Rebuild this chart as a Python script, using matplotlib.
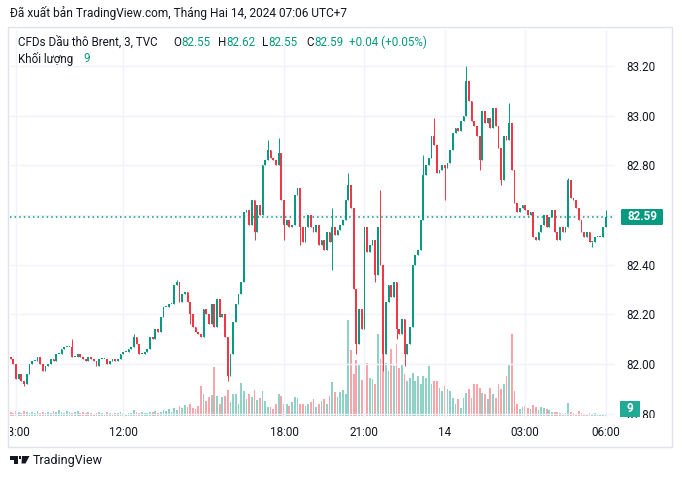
import numpy as np
import matplotlib.pyplot as plt
from matplotlib.patches import Rectangle, Polygon, FancyBboxPatch
from matplotlib.transforms import Bbox

plt.rcParams['font.family'] = ['Roboto', 'DejaVu Sans']

# Nến 6 phút, chỉ số 0 = 08:00 ngày 13/02, chỉ số 220 = 06:00 ngày 14/02
first_index = -2
first_open = 82.03

closes = [
    82.02, 82.00, 81.94, 81.96, 81.93, 81.92, 81.96, 82.00, 82.01, 82.01,
    82.03, 82.00, 81.97, 81.99, 82.00, 82.02, 82.01, 82.04, 82.04, 82.06,
    82.07, 82.07, 82.07, 82.03, 82.03, 82.04, 82.03, 82.02, 82.01, 82.03,
    82.02, 82.01, 81.99, 82.02,
    82.02, 82.02, 82.00, 82.01, 82.02, 82.01, 82.02, 82.04, 82.05, 82.05,
    82.06, 82.07, 82.11, 82.08, 82.04, 82.04, 82.05, 82.06, 82.11, 82.10,
    82.14, 82.13, 82.19, 82.23, 82.23, 82.24, 82.24, 82.32, 82.33, 82.25,
    82.28, 82.29, 82.25, 82.20,
    82.15, 82.13, 82.12, 82.11, 82.22, 82.20, 82.16, 82.24, 82.15, 82.26,
    82.19, 82.20, 82.11, 81.95, 82.04, 82.17, 82.24, 82.28, 82.33, 82.61,
    82.62, 82.56, 82.66, 82.53, 82.64, 82.60, 82.80, 82.82, 82.86, 82.83,
    82.82, 82.80, 82.85, 82.66,
    82.56, 82.58, 82.55, 82.56, 82.68, 82.71, 82.55, 82.49, 82.55, 82.60,
    82.55, 82.53, 82.56, 82.48, 82.50, 82.46, 82.53, 82.49, 82.55, 82.52,
    82.54, 82.56, 82.58, 82.66, 82.72, 82.63, 82.30, 82.08, 82.22, 82.14,
    82.55,
    82.45, 82.48, 82.50, 82.36, 82.55, 82.40, 82.04, 82.25, 82.32, 82.27,
    82.33, 82.14, 82.12, 82.18, 82.04, 82.08, 82.15, 82.40, 82.44, 82.46,
    82.58, 82.76, 82.80, 82.83, 82.92, 82.88, 82.77, 82.78, 82.80, 82.79,
    82.81,
    82.86, 82.93, 82.95, 82.94, 82.98, 83.00, 83.14, 83.06, 82.98, 82.96,
    82.92, 82.82, 83.02, 82.97, 82.99, 82.95, 83.03, 82.96, 82.87, 82.74,
    82.92, 82.90, 82.97, 82.78, 82.65, 82.61, 82.63, 82.64, 82.62,
    82.60, 82.61, 82.51, 82.50, 82.53, 82.56, 82.60, 82.55, 82.59, 82.62,
    82.53, 82.50, 82.55, 82.53, 82.55, 82.74, 82.67, 82.66, 82.63, 82.58,
    82.53, 82.51, 82.53, 82.49, 82.49, 82.51, 82.51, 82.51, 82.55, 82.59,
]

# râu nến nổi bật (chỉ số nến: giá)
spike_high = {21: 82.10, 44: 82.12, 60: 82.34, 94: 82.90, 98: 82.91,
              106: 82.67, 118: 82.63, 124: 82.77, 136: 82.70, 152: 82.84,
              156: 82.99, 168: 83.20, 184: 83.05, 206: 82.75, 220: 82.62}
spike_low = {3: 81.91, 65: 82.16, 79: 81.93, 89: 82.50, 100: 82.50,
             106: 82.48, 118: 82.38, 127: 82.04, 134: 82.33, 137: 81.97,
             142: 82.10, 145: 81.99, 160: 82.66, 173: 82.78, 181: 82.72,
             215: 82.47}

volumes = [
    36, 27, 45, 36, 27, 45, 36, 27, 36, 27, 45, 27, 36, 27, 36, 27, 45, 36,
    54, 36, 27, 45, 36, 27, 36, 45, 27, 36, 27, 36, 27, 18, 27, 36,
    27, 18, 36, 27, 18, 27, 27, 36, 27, 18, 27, 27, 54, 36, 27, 36, 27, 27,
    36, 36, 45, 27, 36, 54, 45, 63, 36, 72, 54, 90, 72, 99, 81, 108,
    72, 63, 90, 270, 198, 135, 171, 189, 441, 180, 108, 171, 180, 234, 126,
    198, 198, 108, 297, 225, 153, 198, 171, 234, 144, 162, 225, 135, 81, 81,
    63, 108, 198, 180,
    108, 108, 90, 126, 171, 162, 108, 108, 90, 108, 126, 153, 81, 108, 135,
    153, 108, 180, 306, 216, 171, 216, 234, 198, 864, 594, 378, 504, 468,
    324, 603,
    477, 342, 333, 288, 738, 513, 675, 477, 405, 603, 450, 648, 432, 468,
    378, 315, 342, 387, 315, 360, 288, 360, 342, 450, 288, 315, 315, 252,
    225, 270, 243,
    225, 162, 108, 153, 72, 162, 207, 243, 162, 288, 288, 252, 207, 198,
    153, 252, 198, 162, 288, 243, 288, 360, 468, 738, 225, 108, 63, 81, 90,
    72, 63, 99, 81, 54, 81, 72, 63, 54, 36, 36, 36, 27, 18, 27, 117, 36, 27,
    18, 45, 27, 18, 18, 27, 18, 27, 18, 18, 18, 9,
]

price_ticks = [81.80, 82.00, 82.20, 82.40, 82.60, 82.80, 83.00, 83.20]
time_ticks = [0, 40, 100, 130, 160, 190, 220]
time_labels = ["08:00", "12:00", "18:00", "21:00", "14", "03:00", "06:00"]

UP = '#089981'
DOWN = '#f23645'
TXT = '#131722'

W, H = 682, 479
fig = plt.figure(figsize=(W / 100, H / 100), dpi=100)

# vùng vẽ (pixel)
L, R, T, B = 10, 615, 30, 418
ax = fig.add_axes([L / W, 1 - B / H, (R - L) / W, (B - T) / H])
ax2 = ax.twinx()
ax.set_zorder(ax2.get_zorder() + 1)
ax.patch.set_visible(False)

x = np.arange(first_index, first_index + len(closes))
c = np.array(closes)
o = np.concatenate([[first_open], c[:-1]])
hi = np.maximum(o, c)
lo = np.minimum(o, c)
for k, v in spike_high.items():
    hi[k - first_index] = v
for k, v in spike_low.items():
    lo[k - first_index] = v
up = c >= o
colors = np.where(up, UP, DOWN)

ax.vlines(x, lo, hi, colors=colors, lw=0.7, zorder=3)
ax.bar(x, np.maximum(np.abs(c - o), 0.004), bottom=np.minimum(o, c),
       width=0.65, color=colors, lw=0, zorder=4)

ax2.bar(x, volumes, width=0.65, color=colors, alpha=0.45, lw=0)
px_per_unit = 248.3
ax2.set_ylim(-2.5 * 9, (B - T - 2.5) * 9)
ax2.axis('off')

step = 2.68
ax.set_xlim((L - 16) / step, (R - 16) / step)
ax.set_ylim(83.20 - (B - 66) / px_per_unit, 83.20 - (T - 66) / px_per_unit)

ax.set_xticks(time_ticks)
ax.set_xticklabels(time_labels)
ax.set_yticks(price_ticks)
# nhãn 82.60 bị nhãn giá cuối che trong ảnh gốc
ax.set_yticklabels(["" if abs(p - 82.60) < 1e-6 else f"{p:.2f}" for p in price_ticks])
ax.yaxis.tick_right()
ax.tick_params(axis='both', length=0, labelsize=8.4, labelcolor=TXT)
ax.tick_params(axis='x', pad=6)
ax.tick_params(axis='y', pad=8)
ax.grid(True, color='#f0f3fa', lw=1, zorder=0)
for s in ax.spines.values():
    s.set_visible(False)

# cắt nhãn ở mép như ảnh gốc
clip_x = Bbox.from_extents(L, 0, W, H)
clip_y = Bbox.from_extents(0, H - B, W, H)
for lab in ax.get_xticklabels():
    lab.set_clip_box(clip_x)
    lab.set_clip_on(True)
for lab in ax.get_yticklabels():
    lab.set_clip_box(clip_y)
    lab.set_clip_on(True)

last = closes[-1]
ax.axhline(last, color=UP, lw=1.1, ls=(0, (1, 2)), zorder=2)


def px(xp, yp):
    return xp / W, 1 - yp / H


tf = fig.transFigure

# khung ngoài
fig.add_artist(Rectangle(px(8, 447), 664 / W, 420 / H, transform=tf,
                         fill=False, ec='#e0e3eb', lw=1))

# nhãn giá cuối và khối lượng cuối
fig.add_artist(FancyBboxPatch(px(621, 225), 42 / W, 16 / H,
                              boxstyle='round,pad=0,rounding_size=0.002',
                              transform=tf, fc=UP, ec='none'))
fig.text(*px(642, 217), f"{last:.2f}", color='white', fontsize=8.4,
         fontweight='bold', ha='center', va='center')
fig.add_artist(Rectangle(px(620, 416.5), 20 / W, 16 / H, transform=tf,
                         fc='#22ab94', ec='none', zorder=5))
fig.text(*px(630, 408.5), str(volumes[-1]), color='white', fontsize=8.4,
         fontweight='bold', ha='center', va='center', zorder=6)

# tiêu đề
fig.text(*px(10, 13), "Đã xuất bản TradingView.com, Tháng Hai 14, 2024 07:06 UTC+7",
         color=TXT, fontsize=8.6, ha='left', va='center')

renderer = fig.canvas.get_renderer()
fig.text(*px(18, 42), "CFDs Dầu thô Brent, 3, TVC", color=TXT, fontsize=8.4,
         ha='left', va='center')
ohlc = [(173, "O", "82.55"), (218, "H", "82.62"), (262, "L", "82.55"),
        (306, "C", "82.59")]
for xp, key, val in ohlc:
    t = fig.text(*px(xp, 42), key, color=TXT, fontsize=8.4, ha='left', va='center')
    x_end = t.get_window_extent(renderer).x1
    fig.text(x_end / W + 0.5 / W, 1 - 42 / H, val, color=UP, fontsize=8.4,
             ha='left', va='center')
fig.text(*px(349, 42), "+0.04 (+0.05%)", color=UP, fontsize=8.4, ha='left', va='center')
fig.text(*px(18, 59), "Khối lượng", color=TXT, fontsize=8.4, ha='left', va='center')
fig.text(*px(83, 59), str(volumes[-1]), color=UP, fontsize=8.4, ha='left', va='center')

# logo TradingView
fig.add_artist(Polygon([px(10, 456), px(17.5, 456), px(17.5, 463.5), px(13.8, 463.5),
                        px(13.8, 459.5), px(10, 459.5)], closed=True, transform=tf,
                       fc=TXT, ec='none'))
fig.add_artist(Polygon([px(18.5, 456), px(21, 456), px(21, 459), px(18.5, 459)],
                       closed=True, transform=tf, fc=TXT, ec='none'))
fig.add_artist(Polygon([px(22, 456), px(29.5, 456), px(25.5, 463.5), px(21.5, 463.5)],
                       closed=True, transform=tf, fc=TXT, ec='none'))
fig.text(*px(33, 460.5), "TradingView", color=TXT, fontsize=9, ha='left', va='center')

fig.savefig("out.png", dpi=100)
